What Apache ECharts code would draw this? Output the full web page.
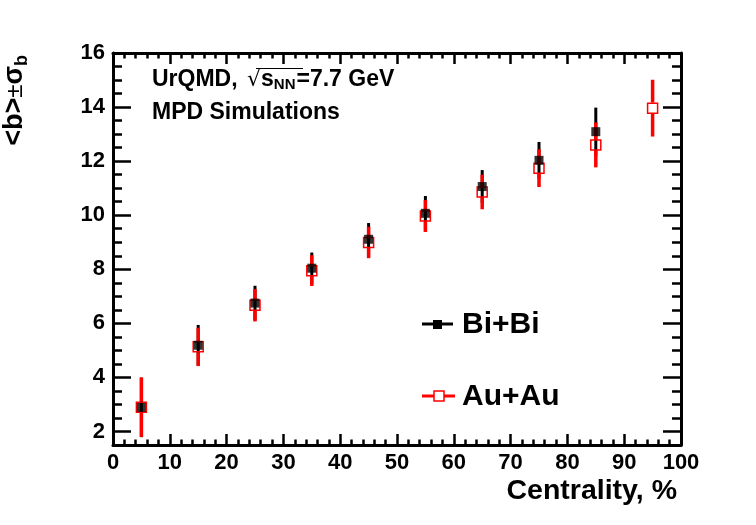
<!DOCTYPE html>
<html>
<head>
<meta charset="utf-8">
<script src="https://cdn.jsdelivr.net/npm/echarts@6/dist/echarts.min.js"></script>
<style>
html, body { margin: 0; padding: 0; background: #fff; }
#main { width: 756px; height: 525px; }
</style>
</head>
<body>
<div id="main"></div>
<script>
// centrality bins and <b> +- sigma_b
const biCentrality = [5, 15, 25, 35, 45, 55, 65, 75, 85];
const biMean = [2.89, 5.19, 6.75, 8.04, 9.11, 10.07, 11.06, 12.03, 13.09];
const biSigma = [1.1, 0.75, 0.64, 0.58, 0.6, 0.64, 0.61, 0.68, 0.89];

const auCentrality = [5, 15, 25, 35, 45, 55, 65, 75, 85, 95];
const auMean = [2.9, 5.13, 6.67, 7.95, 8.99, 9.97, 10.86, 11.74, 12.6, 13.96];
const auSigma = [1.1, 0.71, 0.6, 0.57, 0.58, 0.59, 0.64, 0.7, 0.83, 1.05];

const yLabels = [2, 4, 6, 8, 10, 12, 14, 16];

const FONT = 'Liberation Sans';

const drawChart = function(id) {
    let myChart = echarts.init(document.getElementById(id));

    let biData = [];
    for (let i = 0; i < biCentrality.length; i++) {
        biData.push([biCentrality[i], biMean[i], biSigma[i]]);
    }
    let auData = [];
    for (let i = 0; i < auCentrality.length; i++) {
        auData.push([auCentrality[i], auMean[i], auSigma[i]]);
    }

    // error bar, optional gap around the marker
    const errorBar = function(color, width, gap) {
        return function(params, api) {
            let x = api.value(0), y = api.value(1), s = api.value(2);
            let top = api.coord([x, y + s]);
            let bot = api.coord([x, y - s]);
            let c = api.coord([x, y]);
            let style = { stroke: color, lineWidth: width };
            if (!gap) {
                return { type: 'line', shape: { x1: c[0], y1: top[1], x2: c[0], y2: bot[1] }, style: style };
            }
            return {
                type: 'group',
                children: [
                    { type: 'line', shape: { x1: c[0], y1: top[1], x2: c[0], y2: c[1] - gap }, style: style },
                    { type: 'line', shape: { x1: c[0], y1: c[1] + gap, x2: c[0], y2: bot[1] }, style: style }
                ]
            };
        };
    };

    const tickStyle = { color: '#000', width: 2.5 };
    const line = { show: true, onZero: false, lineStyle: { color: '#000', width: 3 } };

    const xAxisBase = function(pos, labels) {
        return {
            type: 'value', min: 0, max: 100, interval: 10, position: pos, offset: 0,
            axisLine: line,
            axisTick: { inside: true, length: 11, lineStyle: tickStyle },
            minorTick: { show: true, splitNumber: 5, length: 5.5, lineStyle: tickStyle },
            axisLabel: {
                show: labels, margin: 7, color: '#000',
                fontSize: 22, fontWeight: 'bold', fontFamily: FONT
            },
            splitLine: { show: false }
        };
    };

    // major ticks + labels every 2
    const yMajor = function(pos, labels) {
        return {
            type: 'value', min: 1.5, max: 16, position: pos, offset: 0,
            axisLine: line,
            axisTick: { inside: true, length: 18, customValues: yLabels, lineStyle: tickStyle },
            axisLabel: {
                show: labels, margin: 8, color: '#000', customValues: yLabels,
                fontSize: 22, fontWeight: 'bold', fontFamily: FONT
            },
            splitLine: { show: false }
        };
    };
    // minor ticks every 0.5
    const yMinor = function(pos) {
        return {
            type: 'value', min: 1.5, max: 16, interval: 0.5, position: pos, offset: 0,
            axisLine: { show: false, onZero: false },
            axisTick: { inside: true, length: 9, lineStyle: tickStyle },
            axisLabel: { show: false },
            splitLine: { show: false }
        };
    };

    const txt = { fill: '#000', fontFamily: FONT, fontWeight: 'bold' };

    let option = {
        animation: false,
        backgroundColor: '#fff',
        grid: { left: 113, right: 75, top: 53, bottom: 80, containLabel: false },
        xAxis: [xAxisBase('bottom', true), xAxisBase('top', false)],
        yAxis: [yMajor('left', true), yMinor('left'), yMajor('right', false), yMinor('right')],
        series: [
            {
                name: 'Bi+Bi err', type: 'custom', xAxisIndex: 0, yAxisIndex: 0,
                renderItem: errorBar('#000', 3, 0), data: biData
            },
            {
                name: 'Bi+Bi', type: 'scatter', xAxisIndex: 0, yAxisIndex: 0,
                symbol: 'rect', symbolSize: 9, itemStyle: { color: '#000' }, data: biData
            },
            {
                name: 'Au+Au err', type: 'custom', xAxisIndex: 0, yAxisIndex: 0,
                renderItem: errorBar('#ff0000', 3.5, 5.5), data: auData
            },
            {
                name: 'Au+Au', type: 'custom', xAxisIndex: 0, yAxisIndex: 0,
                renderItem: function(params, api) {
                    let c = api.coord([api.value(0), api.value(1)]);
                    return {
                        type: 'rect',
                        shape: { x: c[0] - 5, y: c[1] - 5, width: 10, height: 10 },
                        style: { fill: null, stroke: '#ff0000', lineWidth: 1.5 }
                    };
                },
                data: auData
            }
        ],
        graphic: [
            // y axis title
            {
                type: 'text', x: 15, y: 55, rotation: Math.PI / 2,
                style: {
                    text: '{m|<b>}{pm|±}{m|σ}{sub|b}',
                    align: 'right', verticalAlign: 'middle',
                    rich: {
                        m: { fontSize: 27, fontWeight: 'bold', fontFamily: FONT, fill: '#000' },
                        pm: { fontSize: 24, fontFamily: FONT, fill: '#000' },
                        sub: { fontSize: 18, fontWeight: 'bold', fontFamily: FONT, fill: '#000', padding: [14, 0, 0, 0] }
                    }
                }
            },
            // x axis title
            {
                type: 'text', x: 677, y: 491,
                style: Object.assign({ text: 'Centrality, %', fontSize: 28.5, align: 'right', verticalAlign: 'middle' }, txt)
            },
            // header text
            {
                type: 'text', x: 152, y: 80,
                style: {
                    text: '{a|UrQMD, }{r|√}{a|s}{sub|NN}{a|=7.7 GeV}',
                    verticalAlign: 'middle',
                    rich: {
                        a: { fontSize: 23, fontWeight: 'bold', fontFamily: FONT, fill: '#000' },
                        r: { fontSize: 22, fontFamily: 'DejaVu Sans', fill: '#000', padding: [0, 0, 0, 3] },
                        sub: { fontSize: 15, fontWeight: 'bold', fontFamily: FONT, fill: '#000', padding: [10, 1, 0, 0] }
                    }
                }
            },
            {
                type: 'line', shape: { x1: 256, y1: 68.5, x2: 303, y2: 68.5 },
                style: { stroke: '#000', lineWidth: 1 }
            },
            {
                type: 'text', x: 152, y: 113,
                style: Object.assign({ text: 'MPD Simulations', fontSize: 23, verticalAlign: 'middle' }, txt)
            },
            // legend: Bi+Bi
            { type: 'line', shape: { x1: 422, y1: 324, x2: 453, y2: 324 }, style: { stroke: '#000', lineWidth: 3 } },
            { type: 'rect', shape: { x: 433, y: 320, width: 9, height: 9 }, style: { fill: '#000' } },
            {
                type: 'text', x: 462, y: 325,
                style: Object.assign({ text: 'Bi+Bi', fontSize: 30, verticalAlign: 'middle' }, txt)
            },
            // legend: Au+Au
            { type: 'line', shape: { x1: 422, y1: 396, x2: 455, y2: 396 }, style: { stroke: '#ff0000', lineWidth: 3 } },
            { type: 'rect', shape: { x: 434, y: 391, width: 10, height: 10 }, style: { fill: '#fff', stroke: '#ff0000', lineWidth: 1.5 } },
            {
                type: 'text', x: 462, y: 397,
                style: Object.assign({ text: 'Au+Au', fontSize: 30, verticalAlign: 'middle' }, txt)
            }
        ]
    };

    myChart.setOption(option);

    window.addEventListener("resize", function() {
        myChart.resize();
    });
};

drawChart('main');
</script>
</body>
</html>
